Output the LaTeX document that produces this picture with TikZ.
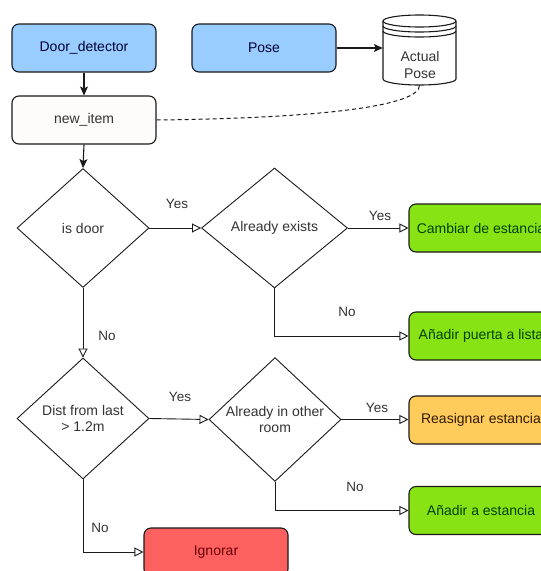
\documentclass[tikz,border=0pt]{standalone}
\usepackage{fontspec}
\setmainfont{Liberation Sans}
\usetikzlibrary{arrows.meta,shapes.geometric}
\definecolor{bluefill}{HTML}{99CCFF}
\definecolor{greenfill}{HTML}{88E314}
\definecolor{orangefill}{HTML}{FFCC5C}
\definecolor{redfill}{HTML}{FF6161}
\definecolor{itemfill}{HTML}{FDFCFA}
\definecolor{txt}{HTML}{333333}
\definecolor{edge}{HTML}{1A1A1A}
\tikzset{
  box/.style={draw=edge, line width=1.1pt, rounded corners=7pt, minimum width=144pt, minimum height=48pt, inner sep=0pt, font=\fontsize{14}{16.5}\selectfont, text=txt},
  decision/.style={diamond, draw=edge, line width=0.9pt, fill=white, inner sep=0pt, align=center, font=\fontsize{14}{16.5}\selectfont, text=txt},
  lbl/.style={font=\fontsize{13.5}{16}\selectfont, text=txt, inner sep=0pt},
  solidarrow/.style={draw=edge, line width=1.1pt, -{Stealth[length=9pt,width=8pt,inset=2pt]}},
  openarrow/.style={draw=edge, line width=0.9pt, -{Triangle[open,length=9pt,width=9pt,fill=white]}},
}
\begin{document}
\begin{tikzpicture}[x=1pt,y=-1pt]
\useasboundingbox (0,0) rectangle (541,571);
\clip (0,0) rectangle (541,571);
\fill[white] (0,0) rectangle (541,571);

% top row
\node[box, fill=bluefill, text=black!80!blue] (dd) at (84,48) {Door\_detector};
\node[box, fill=bluefill, text=black!80!blue] (pose) at (264,48) {Pose};
\node[minimum width=73pt, minimum height=70pt, inner sep=0pt] (ap) at (419.5,50) {};
% cylinder (datastore)
\filldraw[draw=edge, fill=white, line width=1.1pt]
  (383,21) -- (383,79) arc (180:0:36.5 and 6) -- (456,21) arc (0:-180:36.5 and 6) -- cycle;
\draw[edge, line width=1.1pt] (383,21) arc (180:0:36.5 and 6);
\draw[edge, line width=1.1pt] (383,26) arc (180:0:36.5 and 6);
\draw[edge, line width=1.1pt] (383,31) arc (180:0:36.5 and 6);
\node[align=center, font=\fontsize{14}{16.5}\selectfont, text=txt, inner sep=0pt] (aptext) at (420,65) {Actual\\Pose};

\node[box, fill=itemfill] (ni) at (84,120) {new\_item};

% decisions
\node[decision, minimum width=132pt, minimum height=119pt] (isdoor) at (83,228) {is door};
\node[decision, minimum width=146pt, minimum height=120pt] (exists) at (274.5,228) {Already exists};
\node[decision, minimum width=132pt, minimum height=121pt] (dist) at (83,418.5) {Dist from last\\[-1pt]\textgreater{} 1.2m};
\node[decision, minimum width=132pt, minimum height=120pt] (other) at (275,419.5) {Already in other\\[-1pt]room};

% results
\node[box, fill=greenfill, text=black!75!green] (cambiar) at (481,228) {Cambiar de estancia};
\node[box, fill=greenfill, text=black!75!green] (puerta) at (481,336) {Añadir puerta a lista};
\node[box, fill=orangefill, text=black!80!orange] (reasignar) at (481,420) {Reasignar estancia};
\node[box, fill=greenfill, text=black!75!green] (estancia) at (481,510.5) {Añadir a estancia};
\node[box, fill=redfill, text=black!60!red] (ignorar) at (216,552) {Ignorar};

% connectors
\draw[solidarrow] (dd.south) -- (ni.north);
\draw[solidarrow] (pose.east) -- (pose.east -| ap.west);
\draw[solidarrow] (ni.south) -- (isdoor.north);
\draw[edge, line width=1pt, dashed, dash pattern=on 4pt off 3pt] (ni.east) .. controls (330,118) and (420,105) .. (ap.south);

\draw[openarrow] (isdoor.east) -- (exists.west);
\draw[openarrow] (exists.east) -- (cambiar.west);
\draw[openarrow] (exists.south) |- (puerta.west);
\draw[openarrow] (isdoor.south) -- (dist.north);
\draw[openarrow] (dist.east) -- (other.west);
\draw[openarrow] (other.east) -- (other.east -| reasignar.west);
\draw[openarrow] (other.south) |- (estancia.west);
\draw[openarrow] (dist.south) |- (ignorar.west);

% labels
\node[lbl] (y1) at (177,204) {Yes};
\node[lbl] (y2) at (380,216) {Yes};
\node[lbl] (n1) at (107,336) {No};
\node[lbl] (n2) at (347,312) {No};
\node[lbl] (y3) at (180,397) {Yes};
\node[lbl] (y4) at (377,408) {Yes};
\node[lbl] (n3) at (355,487) {No};
\node[lbl] (n4) at (100,528) {No};
\end{tikzpicture}
\end{document}
